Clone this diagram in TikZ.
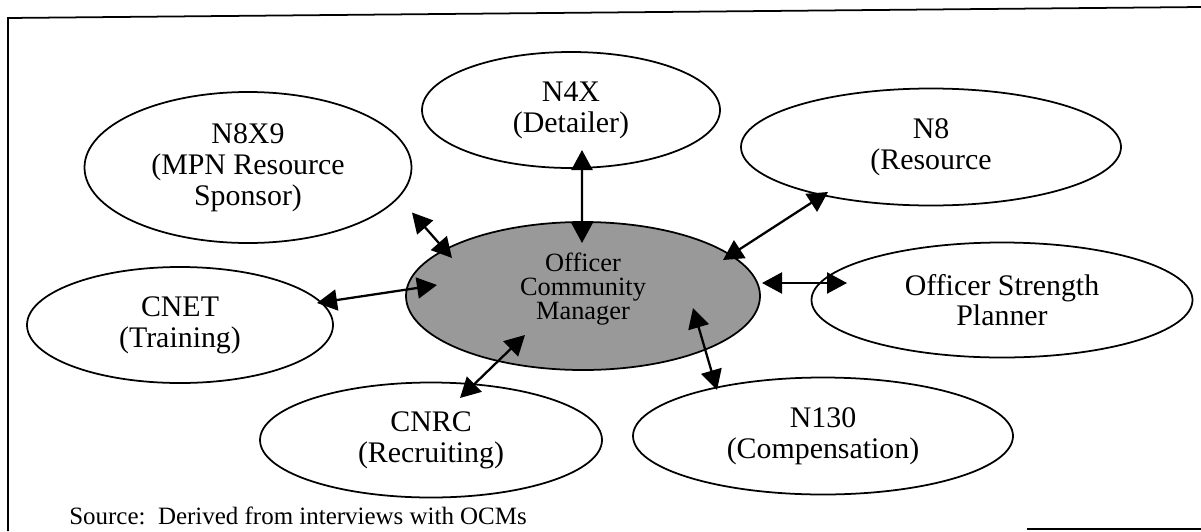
\documentclass[tikz,border=0pt]{standalone}
\usepackage{fontspec}
\setmainfont{Liberation Serif}
\usetikzlibrary{shapes.geometric,arrows.meta}

\begin{document}
\begin{tikzpicture}[
  unit/.style={draw, ellipse, line width=1pt, inner sep=0pt, align=center, font=\fontsize{17}{17.5}\selectfont},
  link/.style={line width=1.3pt, {Triangle[length=0.4cm,width=0.42cm]}-{Triangle[length=0.4cm,width=0.42cm]}}
]
\useasboundingbox (0,0) rectangle (24.02,-10.62);
\draw [line width=1pt] (24.02,-0.14) -- (0.16,-0.36) -- (0.16,-10.62); \draw [line width=1pt] (20.54,-10.58) -- (24.02,-10.58);
\node [unit, fill=black!40, minimum width=7.08cm, minimum height=2.96cm, font=\fontsize{15}{13.5}\selectfont] (ocm) at (11.66,-5.92) {Officer\\Community\\Manager\rule[-0.4cm]{0pt}{0.1pt}};
\node [unit, minimum width=5.96cm, minimum height=2.32cm] (n4x) at (11.42,-2.20) {N4X\\(Detailer)};
\node [unit, minimum width=6.54cm, minimum height=3.02cm] (n8x9) at (4.96,-3.35) {N8X9\\(MPN Resource\\Sponsor)};
\node [unit, minimum width=7.60cm, minimum height=2.34cm] (n8) at (18.62,-2.94) {N8\\(Resource};
\node [unit, minimum width=7.62cm, minimum height=2.30cm] (osp) at (20.04,-6.00) {Officer Strength\\Planner};
\node [unit, minimum width=7.60cm, minimum height=2.34cm] (n130) at (16.46,-8.72) {N130\\(Compensation)};
\node [unit, minimum width=6.84cm, minimum height=2.30cm] (cnrc) at (8.62,-8.80) {CNRC\\(Recruiting)};
\node [unit, minimum width=6.12cm, minimum height=2.32cm] (cnet) at (3.60,-6.50) {CNET\\(Training)};
\foreach \a/\ax/\ay/\bx/\by in { n8x9/3.28/-0.90/-2.62/0.76 , n4x/0.22/-0.80/-0.02/1.06 , n8/-2.06/-0.90/2.80/0.72 , osp/-3.10/0.34/3.58/0.26 , n130/-2.12/0.92/2.20/-0.24 , cnrc/0.58/0.84/-1.16/-0.78 , cnet/2.74/0.44/-2.92/0.22 } { \draw [link] ([shift={(\ax,\ay)}]\a.center) -- ([shift={(\bx,\by)}]ocm.center); };
\node [anchor=base west, inner sep=0pt, font=\fontsize{14.2}{16}\selectfont] (src) at (1.38,-10.48) {Source:\ \ Derived from interviews with OCMs};
\end{tikzpicture}
\end{document}
